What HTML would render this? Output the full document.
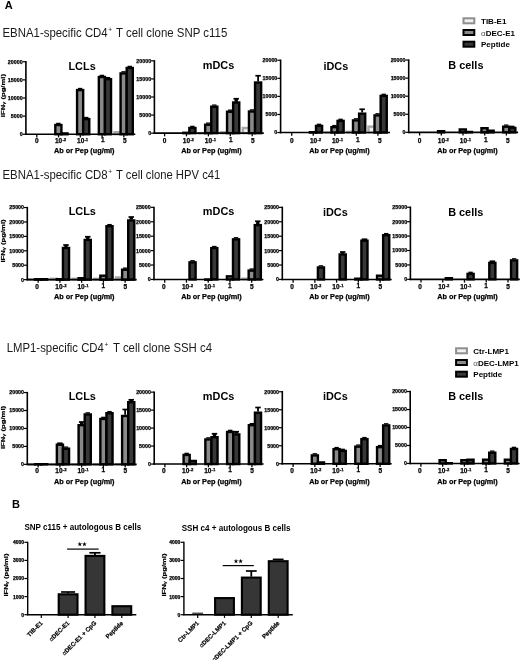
<!DOCTYPE html>
<html><head><meta charset="utf-8"><title>Figure</title>
<style>html,body{margin:0;padding:0;background:#fff}svg{display:block;filter:blur(0.4px)}</style></head>
<body>
<svg width="520" height="660" viewBox="0 0 520 660" font-family="Liberation Sans, sans-serif">
<rect width="520" height="660" fill="#fff"/>
<text x="4.80" y="8.60" font-size="11" font-weight="bold" text-anchor="start" fill="#000" >A</text>
<text x="12.00" y="508.20" font-size="11" font-weight="bold" text-anchor="start" fill="#000" >B</text>
<text x="2.5" y="36.8" font-size="11.9" fill="#1a1a1a" textLength="105.2" lengthAdjust="spacingAndGlyphs">EBNA1-specific CD4</text>
<text x="108.3" y="32.199999999999996" font-size="6.5" fill="#1a1a1a">+</text>
<text x="116.0" y="36.8" font-size="11.9" fill="#1a1a1a" textLength="111.3" lengthAdjust="spacingAndGlyphs">T cell clone SNP c115</text>
<text x="2.5" y="179.0" font-size="11.9" fill="#1a1a1a" textLength="105.2" lengthAdjust="spacingAndGlyphs">EBNA1-specific CD8</text>
<text x="108.3" y="174.4" font-size="6.5" fill="#1a1a1a">+</text>
<text x="116.0" y="179.0" font-size="11.9" fill="#1a1a1a" textLength="104.3" lengthAdjust="spacingAndGlyphs">T cell clone HPV c41</text>
<text x="6.7" y="351.6" font-size="11.9" fill="#1a1a1a" textLength="97.2" lengthAdjust="spacingAndGlyphs">LMP1-specific CD4</text>
<text x="104.5" y="347.0" font-size="6.5" fill="#1a1a1a">+</text>
<text x="113.0" y="351.6" font-size="11.9" fill="#1a1a1a" textLength="99.0" lengthAdjust="spacingAndGlyphs">T cell clone SSH c4</text>
<rect x="463.50" y="18.30" width="10.8" height="5.0" fill="#f0f0f0" stroke="#8e8e8e" stroke-width="2.0"/>
<text x="481.00" y="23.80" font-size="8" font-weight="bold" text-anchor="start" fill="#000" >TIB-E1</text>
<rect x="463.50" y="30.00" width="10.8" height="5.0" fill="#8a8a8a" stroke="#000000" stroke-width="2.0"/>
<text x="481.0" y="35.50" font-size="8" font-weight="bold" fill="#000"><tspan font-weight="normal" fill="#555">α</tspan>DEC-E1</text>
<rect x="463.50" y="41.70" width="10.8" height="5.0" fill="#383838" stroke="#000000" stroke-width="2.0"/>
<text x="481.00" y="47.20" font-size="8" font-weight="bold" text-anchor="start" fill="#000" >Peptide</text>
<rect x="456.10" y="348.30" width="10.8" height="5.0" fill="#f0f0f0" stroke="#8e8e8e" stroke-width="2.0"/>
<text x="473.30" y="353.80" font-size="8" font-weight="bold" text-anchor="start" fill="#000" >Ctr-LMP1</text>
<rect x="456.10" y="360.00" width="10.8" height="5.0" fill="#8a8a8a" stroke="#000000" stroke-width="2.0"/>
<text x="473.3" y="365.50" font-size="8" font-weight="bold" fill="#000"><tspan font-weight="normal" fill="#555">α</tspan>DEC-LMP1</text>
<rect x="456.10" y="371.70" width="10.8" height="5.0" fill="#383838" stroke="#000000" stroke-width="2.0"/>
<text x="473.30" y="377.20" font-size="8" font-weight="bold" text-anchor="start" fill="#000" >Peptide</text>
<line x1="56.16" y1="123.40" x2="60.56" y2="123.40" stroke="#000" stroke-width="1.3"/>
<rect x="55.31" y="125.00" width="6.10" height="9.25" fill="#8a8a8a" stroke="#000000" stroke-width="2.4"/>
<rect x="61.41" y="133.40" width="6.10" height="0.85" fill="#383838" stroke="#000000" stroke-width="2.4"/>
<line x1="77.92" y1="88.50" x2="82.32" y2="88.50" stroke="#000" stroke-width="1.3"/>
<rect x="77.07" y="90.10" width="6.10" height="44.15" fill="#8a8a8a" stroke="#000000" stroke-width="2.4"/>
<line x1="84.02" y1="117.50" x2="88.42" y2="117.50" stroke="#000" stroke-width="1.3"/>
<rect x="83.17" y="119.10" width="6.10" height="15.15" fill="#383838" stroke="#000000" stroke-width="2.4"/>
<line x1="99.68" y1="75.40" x2="104.08" y2="75.40" stroke="#000" stroke-width="1.3"/>
<rect x="98.83" y="77.00" width="6.10" height="57.25" fill="#8a8a8a" stroke="#000000" stroke-width="2.4"/>
<line x1="105.78" y1="77.60" x2="110.18" y2="77.60" stroke="#000" stroke-width="1.3"/>
<rect x="104.93" y="79.20" width="6.10" height="55.05" fill="#383838" stroke="#000000" stroke-width="2.4"/>
<rect x="114.49" y="132.20" width="6.10" height="2.05" fill="#f0f0f0" stroke="#a8a8a8" stroke-width="2.4"/>
<line x1="121.44" y1="71.80" x2="125.84" y2="71.80" stroke="#000" stroke-width="1.3"/>
<rect x="120.59" y="73.40" width="6.10" height="60.85" fill="#8a8a8a" stroke="#000000" stroke-width="2.4"/>
<line x1="127.54" y1="66.40" x2="131.94" y2="66.40" stroke="#000" stroke-width="1.3"/>
<rect x="126.69" y="68.00" width="6.10" height="66.25" fill="#383838" stroke="#000000" stroke-width="2.4"/>
<line x1="25.90" y1="61.05" x2="25.90" y2="135.05" stroke="#000" stroke-width="1.6"/>
<line x1="25.10" y1="134.25" x2="135.30" y2="134.25" stroke="#000" stroke-width="1.6"/>
<line x1="22.60" y1="134.25" x2="25.90" y2="134.25" stroke="#000" stroke-width="1.2"/>
<text x="22.60" y="136.15" font-size="5.3" font-weight="bold" text-anchor="end" fill="#000"  stroke="#000" stroke-width="0.25">0</text>
<line x1="22.60" y1="116.12" x2="25.90" y2="116.12" stroke="#000" stroke-width="1.2"/>
<text x="22.60" y="118.03" font-size="5.3" font-weight="bold" text-anchor="end" fill="#000"  stroke="#000" stroke-width="0.25">5000</text>
<line x1="22.60" y1="98.00" x2="25.90" y2="98.00" stroke="#000" stroke-width="1.2"/>
<text x="22.60" y="99.90" font-size="5.3" font-weight="bold" text-anchor="end" fill="#000"  stroke="#000" stroke-width="0.25">10000</text>
<line x1="22.60" y1="79.88" x2="25.90" y2="79.88" stroke="#000" stroke-width="1.2"/>
<text x="22.60" y="81.78" font-size="5.3" font-weight="bold" text-anchor="end" fill="#000"  stroke="#000" stroke-width="0.25">15000</text>
<line x1="22.60" y1="61.75" x2="25.90" y2="61.75" stroke="#000" stroke-width="1.2"/>
<text x="22.60" y="63.65" font-size="5.3" font-weight="bold" text-anchor="end" fill="#000"  stroke="#000" stroke-width="0.25">20000</text>
<line x1="36.80" y1="134.25" x2="36.80" y2="137.45" stroke="#000" stroke-width="1.3"/>
<text x="36.80" y="143.20" font-size="6.5" font-weight="bold" text-anchor="middle" fill="#000"  stroke="#000" stroke-width="0.25">0</text>
<line x1="58.56" y1="134.25" x2="58.56" y2="137.45" stroke="#000" stroke-width="1.3"/>
<text x="58.63" y="143.20" font-size="6.5" font-weight="bold" text-anchor="middle" fill="#000"  stroke="#000" stroke-width="0.25">10</text>
<text x="62.43" y="140.80" font-size="4.2" font-weight="bold" text-anchor="start" fill="#000"  stroke="#000" stroke-width="0.25">-2</text>
<line x1="80.32" y1="134.25" x2="80.32" y2="137.45" stroke="#000" stroke-width="1.3"/>
<text x="80.66" y="143.20" font-size="6.5" font-weight="bold" text-anchor="middle" fill="#000"  stroke="#000" stroke-width="0.25">10</text>
<text x="84.46" y="140.80" font-size="4.2" font-weight="bold" text-anchor="start" fill="#000"  stroke="#000" stroke-width="0.25">-1</text>
<line x1="102.08" y1="134.25" x2="102.08" y2="137.45" stroke="#000" stroke-width="1.3"/>
<text x="102.89" y="142.30" font-size="6.5" font-weight="bold" text-anchor="middle" fill="#000"  stroke="#000" stroke-width="0.25">1</text>
<line x1="123.84" y1="134.25" x2="123.84" y2="137.45" stroke="#000" stroke-width="1.3"/>
<text x="124.92" y="143.20" font-size="6.5" font-weight="bold" text-anchor="middle" fill="#000"  stroke="#000" stroke-width="0.25">5</text>
<text x="84.30" y="153.10" font-size="7.0" font-weight="bold" text-anchor="middle" fill="#000" textLength="60.5" lengthAdjust="spacingAndGlyphs" stroke="#000" stroke-width="0.25">Ab or Pep (ug/ml)</text>
<text x="82.10" y="69.60" font-size="10.9" font-weight="bold" text-anchor="middle" fill="#000" >LCLs</text>
<g transform="translate(5.15,95.60) rotate(-90)"><text x="0" y="0" font-size="5.5" font-weight="bold" text-anchor="middle" fill="#000" stroke="#000" stroke-width="0.2" textLength="43.2" lengthAdjust="spacingAndGlyphs">IFN<tspan font-size="4.4" font-weight="normal">γ</tspan> (pg/ml)</text></g>
<rect x="183.25" y="132.80" width="6.10" height="0.35" fill="#8a8a8a" stroke="#000000" stroke-width="2.4"/>
<line x1="190.20" y1="126.40" x2="194.60" y2="126.40" stroke="#000" stroke-width="1.3"/>
<rect x="189.35" y="128.00" width="6.10" height="5.15" fill="#383838" stroke="#000000" stroke-width="2.4"/>
<rect x="199.05" y="133.20" width="6.10" height="0.20" fill="#f0f0f0" stroke="#a8a8a8" stroke-width="2.4"/>
<line x1="206.00" y1="123.15" x2="210.40" y2="123.15" stroke="#000" stroke-width="1.3"/>
<rect x="205.15" y="124.75" width="6.10" height="8.40" fill="#8a8a8a" stroke="#000000" stroke-width="2.4"/>
<line x1="212.10" y1="105.10" x2="216.50" y2="105.10" stroke="#000" stroke-width="1.3"/>
<rect x="211.25" y="106.70" width="6.10" height="26.45" fill="#383838" stroke="#000000" stroke-width="2.4"/>
<rect x="220.95" y="132.20" width="6.10" height="0.95" fill="#f0f0f0" stroke="#a8a8a8" stroke-width="2.4"/>
<line x1="227.90" y1="110.15" x2="232.30" y2="110.15" stroke="#000" stroke-width="1.3"/>
<rect x="227.05" y="111.75" width="6.10" height="21.40" fill="#8a8a8a" stroke="#000000" stroke-width="2.4"/>
<line x1="236.20" y1="98.75" x2="236.20" y2="101.80" stroke="#000" stroke-width="3.355"/>
<line x1="233.45" y1="98.75" x2="238.94" y2="98.75" stroke="#000" stroke-width="1.7"/>
<rect x="233.15" y="102.50" width="6.10" height="30.65" fill="#383838" stroke="#000000" stroke-width="2.4"/>
<rect x="242.85" y="128.00" width="6.10" height="5.15" fill="#f0f0f0" stroke="#a8a8a8" stroke-width="2.4"/>
<line x1="249.80" y1="109.90" x2="254.20" y2="109.90" stroke="#000" stroke-width="1.3"/>
<rect x="248.95" y="111.50" width="6.10" height="21.65" fill="#8a8a8a" stroke="#000000" stroke-width="2.4"/>
<line x1="258.10" y1="75.75" x2="258.10" y2="81.30" stroke="#000" stroke-width="1.8"/>
<line x1="255.36" y1="75.75" x2="260.85" y2="75.75" stroke="#000" stroke-width="1.7"/>
<rect x="255.05" y="82.50" width="6.10" height="50.65" fill="#383838" stroke="#000000" stroke-width="2.4"/>
<line x1="154.40" y1="60.15" x2="154.40" y2="133.95" stroke="#000" stroke-width="1.6"/>
<line x1="153.60" y1="133.15" x2="263.80" y2="133.15" stroke="#000" stroke-width="1.6"/>
<line x1="151.10" y1="133.15" x2="154.40" y2="133.15" stroke="#000" stroke-width="1.2"/>
<text x="151.10" y="135.05" font-size="5.3" font-weight="bold" text-anchor="end" fill="#000"  stroke="#000" stroke-width="0.25">0</text>
<line x1="151.10" y1="115.08" x2="154.40" y2="115.08" stroke="#000" stroke-width="1.2"/>
<text x="151.10" y="116.98" font-size="5.3" font-weight="bold" text-anchor="end" fill="#000"  stroke="#000" stroke-width="0.25">5000</text>
<line x1="151.10" y1="97.00" x2="154.40" y2="97.00" stroke="#000" stroke-width="1.2"/>
<text x="151.10" y="98.90" font-size="5.3" font-weight="bold" text-anchor="end" fill="#000"  stroke="#000" stroke-width="0.25">10000</text>
<line x1="151.10" y1="78.92" x2="154.40" y2="78.92" stroke="#000" stroke-width="1.2"/>
<text x="151.10" y="80.83" font-size="5.3" font-weight="bold" text-anchor="end" fill="#000"  stroke="#000" stroke-width="0.25">15000</text>
<line x1="151.10" y1="60.85" x2="154.40" y2="60.85" stroke="#000" stroke-width="1.2"/>
<text x="151.10" y="62.75" font-size="5.3" font-weight="bold" text-anchor="end" fill="#000"  stroke="#000" stroke-width="0.25">20000</text>
<line x1="164.60" y1="133.15" x2="164.60" y2="136.35" stroke="#000" stroke-width="1.3"/>
<text x="164.60" y="143.20" font-size="6.5" font-weight="bold" text-anchor="middle" fill="#000"  stroke="#000" stroke-width="0.25">0</text>
<line x1="186.50" y1="133.15" x2="186.50" y2="136.35" stroke="#000" stroke-width="1.3"/>
<text x="186.43" y="143.20" font-size="6.5" font-weight="bold" text-anchor="middle" fill="#000"  stroke="#000" stroke-width="0.25">10</text>
<text x="190.23" y="140.80" font-size="4.2" font-weight="bold" text-anchor="start" fill="#000"  stroke="#000" stroke-width="0.25">-2</text>
<line x1="208.40" y1="133.15" x2="208.40" y2="136.35" stroke="#000" stroke-width="1.3"/>
<text x="208.46" y="143.20" font-size="6.5" font-weight="bold" text-anchor="middle" fill="#000"  stroke="#000" stroke-width="0.25">10</text>
<text x="212.26" y="140.80" font-size="4.2" font-weight="bold" text-anchor="start" fill="#000"  stroke="#000" stroke-width="0.25">-1</text>
<line x1="230.30" y1="133.15" x2="230.30" y2="136.35" stroke="#000" stroke-width="1.3"/>
<text x="230.69" y="142.30" font-size="6.5" font-weight="bold" text-anchor="middle" fill="#000"  stroke="#000" stroke-width="0.25">1</text>
<line x1="252.20" y1="133.15" x2="252.20" y2="136.35" stroke="#000" stroke-width="1.3"/>
<text x="252.72" y="143.20" font-size="6.5" font-weight="bold" text-anchor="middle" fill="#000"  stroke="#000" stroke-width="0.25">5</text>
<text x="211.40" y="153.10" font-size="7.0" font-weight="bold" text-anchor="middle" fill="#000" textLength="60.5" lengthAdjust="spacingAndGlyphs" stroke="#000" stroke-width="0.25">Ab or Pep (ug/ml)</text>
<text x="218.50" y="69.00" font-size="10.9" font-weight="bold" text-anchor="middle" fill="#000" >mDCs</text>
<rect x="309.90" y="132.20" width="6.10" height="0.35" fill="#8a8a8a" stroke="#000000" stroke-width="2.4"/>
<line x1="316.85" y1="124.30" x2="321.25" y2="124.30" stroke="#000" stroke-width="1.3"/>
<rect x="316.00" y="125.90" width="6.10" height="6.65" fill="#383838" stroke="#000000" stroke-width="2.4"/>
<rect x="325.35" y="132.50" width="6.10" height="0.20" fill="#f0f0f0" stroke="#a8a8a8" stroke-width="2.4"/>
<line x1="332.30" y1="125.55" x2="336.70" y2="125.55" stroke="#000" stroke-width="1.3"/>
<rect x="331.45" y="127.15" width="6.10" height="5.40" fill="#8a8a8a" stroke="#000000" stroke-width="2.4"/>
<line x1="338.40" y1="119.30" x2="342.80" y2="119.30" stroke="#000" stroke-width="1.3"/>
<rect x="337.55" y="120.90" width="6.10" height="11.65" fill="#383838" stroke="#000000" stroke-width="2.4"/>
<rect x="346.90" y="131.80" width="6.10" height="0.75" fill="#f0f0f0" stroke="#a8a8a8" stroke-width="2.4"/>
<line x1="353.85" y1="118.80" x2="358.25" y2="118.80" stroke="#000" stroke-width="1.3"/>
<rect x="353.00" y="120.40" width="6.10" height="12.15" fill="#8a8a8a" stroke="#000000" stroke-width="2.4"/>
<line x1="362.15" y1="109.25" x2="362.15" y2="112.45" stroke="#000" stroke-width="1.8"/>
<line x1="359.41" y1="109.25" x2="364.90" y2="109.25" stroke="#000" stroke-width="1.7"/>
<rect x="359.10" y="113.65" width="6.10" height="18.90" fill="#383838" stroke="#000000" stroke-width="2.4"/>
<rect x="368.45" y="126.65" width="6.10" height="5.90" fill="#f0f0f0" stroke="#a8a8a8" stroke-width="2.4"/>
<line x1="375.40" y1="113.80" x2="379.80" y2="113.80" stroke="#000" stroke-width="1.3"/>
<rect x="374.55" y="115.40" width="6.10" height="17.15" fill="#8a8a8a" stroke="#000000" stroke-width="2.4"/>
<line x1="381.50" y1="94.30" x2="385.90" y2="94.30" stroke="#000" stroke-width="1.3"/>
<rect x="380.65" y="95.90" width="6.10" height="36.65" fill="#383838" stroke="#000000" stroke-width="2.4"/>
<line x1="280.60" y1="59.55" x2="280.60" y2="133.35" stroke="#000" stroke-width="1.6"/>
<line x1="279.80" y1="132.55" x2="390.00" y2="132.55" stroke="#000" stroke-width="1.6"/>
<line x1="277.30" y1="132.55" x2="280.60" y2="132.55" stroke="#000" stroke-width="1.2"/>
<text x="277.30" y="134.45" font-size="5.3" font-weight="bold" text-anchor="end" fill="#000"  stroke="#000" stroke-width="0.25">0</text>
<line x1="277.30" y1="114.48" x2="280.60" y2="114.48" stroke="#000" stroke-width="1.2"/>
<text x="277.30" y="116.38" font-size="5.3" font-weight="bold" text-anchor="end" fill="#000"  stroke="#000" stroke-width="0.25">5000</text>
<line x1="277.30" y1="96.40" x2="280.60" y2="96.40" stroke="#000" stroke-width="1.2"/>
<text x="277.30" y="98.30" font-size="5.3" font-weight="bold" text-anchor="end" fill="#000"  stroke="#000" stroke-width="0.25">10000</text>
<line x1="277.30" y1="78.33" x2="280.60" y2="78.33" stroke="#000" stroke-width="1.2"/>
<text x="277.30" y="80.23" font-size="5.3" font-weight="bold" text-anchor="end" fill="#000"  stroke="#000" stroke-width="0.25">15000</text>
<line x1="277.30" y1="60.25" x2="280.60" y2="60.25" stroke="#000" stroke-width="1.2"/>
<text x="277.30" y="62.15" font-size="5.3" font-weight="bold" text-anchor="end" fill="#000"  stroke="#000" stroke-width="0.25">20000</text>
<line x1="291.70" y1="132.55" x2="291.70" y2="135.75" stroke="#000" stroke-width="1.3"/>
<text x="291.70" y="143.20" font-size="6.5" font-weight="bold" text-anchor="middle" fill="#000"  stroke="#000" stroke-width="0.25">0</text>
<line x1="313.25" y1="132.55" x2="313.25" y2="135.75" stroke="#000" stroke-width="1.3"/>
<text x="313.53" y="143.20" font-size="6.5" font-weight="bold" text-anchor="middle" fill="#000"  stroke="#000" stroke-width="0.25">10</text>
<text x="317.33" y="140.80" font-size="4.2" font-weight="bold" text-anchor="start" fill="#000"  stroke="#000" stroke-width="0.25">-2</text>
<line x1="334.80" y1="132.55" x2="334.80" y2="135.75" stroke="#000" stroke-width="1.3"/>
<text x="335.56" y="143.20" font-size="6.5" font-weight="bold" text-anchor="middle" fill="#000"  stroke="#000" stroke-width="0.25">10</text>
<text x="339.36" y="140.80" font-size="4.2" font-weight="bold" text-anchor="start" fill="#000"  stroke="#000" stroke-width="0.25">-1</text>
<line x1="356.35" y1="132.55" x2="356.35" y2="135.75" stroke="#000" stroke-width="1.3"/>
<text x="357.79" y="142.30" font-size="6.5" font-weight="bold" text-anchor="middle" fill="#000"  stroke="#000" stroke-width="0.25">1</text>
<line x1="377.90" y1="132.55" x2="377.90" y2="135.75" stroke="#000" stroke-width="1.3"/>
<text x="379.82" y="143.20" font-size="6.5" font-weight="bold" text-anchor="middle" fill="#000"  stroke="#000" stroke-width="0.25">5</text>
<text x="339.40" y="153.10" font-size="7.0" font-weight="bold" text-anchor="middle" fill="#000" textLength="60.5" lengthAdjust="spacingAndGlyphs" stroke="#000" stroke-width="0.25">Ab or Pep (ug/ml)</text>
<text x="335.80" y="69.90" font-size="10.9" font-weight="bold" text-anchor="middle" fill="#000" >iDCs</text>
<rect x="438.05" y="131.20" width="6.10" height="1.15" fill="#8a8a8a" stroke="#000000" stroke-width="2.4"/>
<rect x="459.75" y="129.45" width="6.10" height="2.90" fill="#8a8a8a" stroke="#000000" stroke-width="2.4"/>
<rect x="465.85" y="131.95" width="6.10" height="0.40" fill="#383838" stroke="#000000" stroke-width="2.4"/>
<rect x="481.45" y="128.20" width="6.10" height="4.15" fill="#8a8a8a" stroke="#000000" stroke-width="2.4"/>
<rect x="487.55" y="130.70" width="6.10" height="1.65" fill="#383838" stroke="#000000" stroke-width="2.4"/>
<line x1="504.00" y1="125.10" x2="508.40" y2="125.10" stroke="#000" stroke-width="1.3"/>
<rect x="503.15" y="126.70" width="6.10" height="5.65" fill="#8a8a8a" stroke="#000000" stroke-width="2.4"/>
<line x1="510.10" y1="126.35" x2="514.50" y2="126.35" stroke="#000" stroke-width="1.3"/>
<rect x="509.25" y="127.95" width="6.10" height="4.40" fill="#383838" stroke="#000000" stroke-width="2.4"/>
<line x1="408.70" y1="59.35" x2="408.70" y2="133.15" stroke="#000" stroke-width="1.6"/>
<line x1="407.90" y1="132.35" x2="518.10" y2="132.35" stroke="#000" stroke-width="1.6"/>
<line x1="405.40" y1="132.35" x2="408.70" y2="132.35" stroke="#000" stroke-width="1.2"/>
<text x="405.40" y="134.25" font-size="5.3" font-weight="bold" text-anchor="end" fill="#000"  stroke="#000" stroke-width="0.25">0</text>
<line x1="405.40" y1="114.27" x2="408.70" y2="114.27" stroke="#000" stroke-width="1.2"/>
<text x="405.40" y="116.17" font-size="5.3" font-weight="bold" text-anchor="end" fill="#000"  stroke="#000" stroke-width="0.25">5000</text>
<line x1="405.40" y1="96.20" x2="408.70" y2="96.20" stroke="#000" stroke-width="1.2"/>
<text x="405.40" y="98.10" font-size="5.3" font-weight="bold" text-anchor="end" fill="#000"  stroke="#000" stroke-width="0.25">10000</text>
<line x1="405.40" y1="78.12" x2="408.70" y2="78.12" stroke="#000" stroke-width="1.2"/>
<text x="405.40" y="80.03" font-size="5.3" font-weight="bold" text-anchor="end" fill="#000"  stroke="#000" stroke-width="0.25">15000</text>
<line x1="405.40" y1="60.05" x2="408.70" y2="60.05" stroke="#000" stroke-width="1.2"/>
<text x="405.40" y="61.95" font-size="5.3" font-weight="bold" text-anchor="end" fill="#000"  stroke="#000" stroke-width="0.25">20000</text>
<line x1="419.60" y1="132.35" x2="419.60" y2="135.55" stroke="#000" stroke-width="1.3"/>
<text x="419.60" y="143.20" font-size="6.5" font-weight="bold" text-anchor="middle" fill="#000"  stroke="#000" stroke-width="0.25">0</text>
<line x1="441.30" y1="132.35" x2="441.30" y2="135.55" stroke="#000" stroke-width="1.3"/>
<text x="441.43" y="143.20" font-size="6.5" font-weight="bold" text-anchor="middle" fill="#000"  stroke="#000" stroke-width="0.25">10</text>
<text x="445.23" y="140.80" font-size="4.2" font-weight="bold" text-anchor="start" fill="#000"  stroke="#000" stroke-width="0.25">-2</text>
<line x1="463.00" y1="132.35" x2="463.00" y2="135.55" stroke="#000" stroke-width="1.3"/>
<text x="463.46" y="143.20" font-size="6.5" font-weight="bold" text-anchor="middle" fill="#000"  stroke="#000" stroke-width="0.25">10</text>
<text x="467.26" y="140.80" font-size="4.2" font-weight="bold" text-anchor="start" fill="#000"  stroke="#000" stroke-width="0.25">-1</text>
<line x1="484.70" y1="132.35" x2="484.70" y2="135.55" stroke="#000" stroke-width="1.3"/>
<text x="485.69" y="142.30" font-size="6.5" font-weight="bold" text-anchor="middle" fill="#000"  stroke="#000" stroke-width="0.25">1</text>
<line x1="506.40" y1="132.35" x2="506.40" y2="135.55" stroke="#000" stroke-width="1.3"/>
<text x="507.72" y="143.20" font-size="6.5" font-weight="bold" text-anchor="middle" fill="#000"  stroke="#000" stroke-width="0.25">5</text>
<text x="467.50" y="153.10" font-size="7.0" font-weight="bold" text-anchor="middle" fill="#000" textLength="60.5" lengthAdjust="spacingAndGlyphs" stroke="#000" stroke-width="0.25">Ab or Pep (ug/ml)</text>
<text x="465.90" y="69.10" font-size="10.9" font-weight="bold" text-anchor="middle" fill="#000" >B cells</text>
<rect x="29.00" y="279.40" width="6.10" height="0.25" fill="#f0f0f0" stroke="#a8a8a8" stroke-width="2.4"/>
<rect x="35.10" y="279.20" width="6.10" height="0.45" fill="#8a8a8a" stroke="#000000" stroke-width="2.4"/>
<rect x="41.20" y="279.20" width="6.10" height="0.45" fill="#383838" stroke="#000000" stroke-width="2.4"/>
<rect x="50.75" y="278.80" width="6.10" height="0.85" fill="#f0f0f0" stroke="#a8a8a8" stroke-width="2.4"/>
<rect x="56.85" y="279.20" width="6.10" height="0.45" fill="#8a8a8a" stroke="#000000" stroke-width="2.4"/>
<line x1="66.00" y1="245.00" x2="66.00" y2="247.25" stroke="#000" stroke-width="3.355"/>
<line x1="63.26" y1="245.00" x2="68.75" y2="245.00" stroke="#000" stroke-width="1.7"/>
<rect x="62.95" y="247.95" width="6.10" height="31.70" fill="#383838" stroke="#000000" stroke-width="2.4"/>
<rect x="72.50" y="278.80" width="6.10" height="0.85" fill="#f0f0f0" stroke="#a8a8a8" stroke-width="2.4"/>
<rect x="78.60" y="278.20" width="6.10" height="1.45" fill="#8a8a8a" stroke="#000000" stroke-width="2.4"/>
<line x1="87.75" y1="236.75" x2="87.75" y2="239.25" stroke="#000" stroke-width="3.355"/>
<line x1="85.00" y1="236.75" x2="90.50" y2="236.75" stroke="#000" stroke-width="1.7"/>
<rect x="84.70" y="239.95" width="6.10" height="39.70" fill="#383838" stroke="#000000" stroke-width="2.4"/>
<rect x="94.25" y="278.80" width="6.10" height="0.85" fill="#f0f0f0" stroke="#a8a8a8" stroke-width="2.4"/>
<rect x="100.35" y="275.70" width="6.10" height="3.95" fill="#8a8a8a" stroke="#000000" stroke-width="2.4"/>
<line x1="107.30" y1="224.60" x2="111.70" y2="224.60" stroke="#000" stroke-width="1.3"/>
<rect x="106.45" y="226.20" width="6.10" height="53.45" fill="#383838" stroke="#000000" stroke-width="2.4"/>
<rect x="116.00" y="277.45" width="6.10" height="2.20" fill="#f0f0f0" stroke="#a8a8a8" stroke-width="2.4"/>
<line x1="122.95" y1="268.10" x2="127.35" y2="268.10" stroke="#000" stroke-width="1.3"/>
<rect x="122.10" y="269.70" width="6.10" height="9.95" fill="#8a8a8a" stroke="#000000" stroke-width="2.4"/>
<line x1="131.25" y1="217.00" x2="131.25" y2="219.75" stroke="#000" stroke-width="3.355"/>
<line x1="128.50" y1="217.00" x2="134.00" y2="217.00" stroke="#000" stroke-width="1.7"/>
<rect x="128.20" y="220.45" width="6.10" height="59.20" fill="#383838" stroke="#000000" stroke-width="2.4"/>
<line x1="27.30" y1="206.85" x2="27.30" y2="280.45" stroke="#000" stroke-width="1.6"/>
<line x1="26.50" y1="279.65" x2="136.70" y2="279.65" stroke="#000" stroke-width="1.6"/>
<line x1="24.00" y1="279.65" x2="27.30" y2="279.65" stroke="#000" stroke-width="1.2"/>
<text x="24.00" y="281.55" font-size="5.3" font-weight="bold" text-anchor="end" fill="#000"  stroke="#000" stroke-width="0.25">0</text>
<line x1="24.00" y1="265.23" x2="27.30" y2="265.23" stroke="#000" stroke-width="1.2"/>
<text x="24.00" y="267.13" font-size="5.3" font-weight="bold" text-anchor="end" fill="#000"  stroke="#000" stroke-width="0.25">5000</text>
<line x1="24.00" y1="250.81" x2="27.30" y2="250.81" stroke="#000" stroke-width="1.2"/>
<text x="24.00" y="252.71" font-size="5.3" font-weight="bold" text-anchor="end" fill="#000"  stroke="#000" stroke-width="0.25">10000</text>
<line x1="24.00" y1="236.39" x2="27.30" y2="236.39" stroke="#000" stroke-width="1.2"/>
<text x="24.00" y="238.29" font-size="5.3" font-weight="bold" text-anchor="end" fill="#000"  stroke="#000" stroke-width="0.25">15000</text>
<line x1="24.00" y1="221.97" x2="27.30" y2="221.97" stroke="#000" stroke-width="1.2"/>
<text x="24.00" y="223.87" font-size="5.3" font-weight="bold" text-anchor="end" fill="#000"  stroke="#000" stroke-width="0.25">20000</text>
<line x1="24.00" y1="207.55" x2="27.30" y2="207.55" stroke="#000" stroke-width="1.2"/>
<text x="24.00" y="209.45" font-size="5.3" font-weight="bold" text-anchor="end" fill="#000"  stroke="#000" stroke-width="0.25">25000</text>
<line x1="38.15" y1="279.65" x2="38.15" y2="282.85" stroke="#000" stroke-width="1.3"/>
<text x="37.15" y="288.90" font-size="6.5" font-weight="bold" text-anchor="middle" fill="#000"  stroke="#000" stroke-width="0.25">0</text>
<line x1="59.90" y1="279.65" x2="59.90" y2="282.85" stroke="#000" stroke-width="1.3"/>
<text x="58.98" y="288.90" font-size="6.5" font-weight="bold" text-anchor="middle" fill="#000"  stroke="#000" stroke-width="0.25">10</text>
<text x="62.78" y="286.50" font-size="4.2" font-weight="bold" text-anchor="start" fill="#000"  stroke="#000" stroke-width="0.25">-2</text>
<line x1="81.65" y1="279.65" x2="81.65" y2="282.85" stroke="#000" stroke-width="1.3"/>
<text x="81.01" y="288.90" font-size="6.5" font-weight="bold" text-anchor="middle" fill="#000"  stroke="#000" stroke-width="0.25">10</text>
<text x="84.81" y="286.50" font-size="4.2" font-weight="bold" text-anchor="start" fill="#000"  stroke="#000" stroke-width="0.25">-1</text>
<line x1="103.40" y1="279.65" x2="103.40" y2="282.85" stroke="#000" stroke-width="1.3"/>
<text x="103.24" y="288.00" font-size="6.5" font-weight="bold" text-anchor="middle" fill="#000"  stroke="#000" stroke-width="0.25">1</text>
<line x1="125.15" y1="279.65" x2="125.15" y2="282.85" stroke="#000" stroke-width="1.3"/>
<text x="125.27" y="288.90" font-size="6.5" font-weight="bold" text-anchor="middle" fill="#000"  stroke="#000" stroke-width="0.25">5</text>
<text x="84.30" y="299.20" font-size="7.0" font-weight="bold" text-anchor="middle" fill="#000" textLength="60.5" lengthAdjust="spacingAndGlyphs" stroke="#000" stroke-width="0.25">Ab or Pep (ug/ml)</text>
<text x="82.30" y="215.40" font-size="10.9" font-weight="bold" text-anchor="middle" fill="#000" >LCLs</text>
<g transform="translate(5.15,241.00) rotate(-90)"><text x="0" y="0" font-size="5.5" font-weight="bold" text-anchor="middle" fill="#000" stroke="#000" stroke-width="0.2" textLength="43.2" lengthAdjust="spacingAndGlyphs">IFN<tspan font-size="4.4" font-weight="normal">γ</tspan> (pg/ml)</text></g>
<line x1="190.35" y1="260.75" x2="194.75" y2="260.75" stroke="#000" stroke-width="1.3"/>
<rect x="189.50" y="262.35" width="6.10" height="17.10" fill="#383838" stroke="#000000" stroke-width="2.4"/>
<rect x="205.15" y="279.50" width="6.10" height="0.20" fill="#8a8a8a" stroke="#000000" stroke-width="2.4"/>
<line x1="212.10" y1="246.50" x2="216.50" y2="246.50" stroke="#000" stroke-width="1.3"/>
<rect x="211.25" y="248.10" width="6.10" height="31.35" fill="#383838" stroke="#000000" stroke-width="2.4"/>
<rect x="226.90" y="276.35" width="6.10" height="3.10" fill="#8a8a8a" stroke="#000000" stroke-width="2.4"/>
<line x1="233.85" y1="237.75" x2="238.25" y2="237.75" stroke="#000" stroke-width="1.3"/>
<rect x="233.00" y="239.35" width="6.10" height="40.10" fill="#383838" stroke="#000000" stroke-width="2.4"/>
<rect x="242.55" y="278.70" width="6.10" height="0.75" fill="#f0f0f0" stroke="#a8a8a8" stroke-width="2.4"/>
<line x1="249.50" y1="269.00" x2="253.90" y2="269.00" stroke="#000" stroke-width="1.3"/>
<rect x="248.65" y="270.60" width="6.10" height="8.85" fill="#8a8a8a" stroke="#000000" stroke-width="2.4"/>
<line x1="257.80" y1="221.25" x2="257.80" y2="224.40" stroke="#000" stroke-width="3.355"/>
<line x1="255.06" y1="221.25" x2="260.55" y2="221.25" stroke="#000" stroke-width="1.7"/>
<rect x="254.75" y="225.10" width="6.10" height="54.35" fill="#383838" stroke="#000000" stroke-width="2.4"/>
<line x1="154.00" y1="206.65" x2="154.00" y2="280.25" stroke="#000" stroke-width="1.6"/>
<line x1="153.20" y1="279.45" x2="263.40" y2="279.45" stroke="#000" stroke-width="1.6"/>
<line x1="150.70" y1="279.45" x2="154.00" y2="279.45" stroke="#000" stroke-width="1.2"/>
<text x="150.70" y="281.35" font-size="5.3" font-weight="bold" text-anchor="end" fill="#000"  stroke="#000" stroke-width="0.25">0</text>
<line x1="150.70" y1="265.03" x2="154.00" y2="265.03" stroke="#000" stroke-width="1.2"/>
<text x="150.70" y="266.93" font-size="5.3" font-weight="bold" text-anchor="end" fill="#000"  stroke="#000" stroke-width="0.25">5000</text>
<line x1="150.70" y1="250.61" x2="154.00" y2="250.61" stroke="#000" stroke-width="1.2"/>
<text x="150.70" y="252.51" font-size="5.3" font-weight="bold" text-anchor="end" fill="#000"  stroke="#000" stroke-width="0.25">10000</text>
<line x1="150.70" y1="236.19" x2="154.00" y2="236.19" stroke="#000" stroke-width="1.2"/>
<text x="150.70" y="238.09" font-size="5.3" font-weight="bold" text-anchor="end" fill="#000"  stroke="#000" stroke-width="0.25">15000</text>
<line x1="150.70" y1="221.77" x2="154.00" y2="221.77" stroke="#000" stroke-width="1.2"/>
<text x="150.70" y="223.67" font-size="5.3" font-weight="bold" text-anchor="end" fill="#000"  stroke="#000" stroke-width="0.25">20000</text>
<line x1="150.70" y1="207.35" x2="154.00" y2="207.35" stroke="#000" stroke-width="1.2"/>
<text x="150.70" y="209.25" font-size="5.3" font-weight="bold" text-anchor="end" fill="#000"  stroke="#000" stroke-width="0.25">25000</text>
<line x1="164.70" y1="279.45" x2="164.70" y2="282.65" stroke="#000" stroke-width="1.3"/>
<text x="163.70" y="288.90" font-size="6.5" font-weight="bold" text-anchor="middle" fill="#000"  stroke="#000" stroke-width="0.25">0</text>
<line x1="186.45" y1="279.45" x2="186.45" y2="282.65" stroke="#000" stroke-width="1.3"/>
<text x="185.53" y="288.90" font-size="6.5" font-weight="bold" text-anchor="middle" fill="#000"  stroke="#000" stroke-width="0.25">10</text>
<text x="189.33" y="286.50" font-size="4.2" font-weight="bold" text-anchor="start" fill="#000"  stroke="#000" stroke-width="0.25">-2</text>
<line x1="208.20" y1="279.45" x2="208.20" y2="282.65" stroke="#000" stroke-width="1.3"/>
<text x="207.56" y="288.90" font-size="6.5" font-weight="bold" text-anchor="middle" fill="#000"  stroke="#000" stroke-width="0.25">10</text>
<text x="211.36" y="286.50" font-size="4.2" font-weight="bold" text-anchor="start" fill="#000"  stroke="#000" stroke-width="0.25">-1</text>
<line x1="229.95" y1="279.45" x2="229.95" y2="282.65" stroke="#000" stroke-width="1.3"/>
<text x="229.79" y="288.00" font-size="6.5" font-weight="bold" text-anchor="middle" fill="#000"  stroke="#000" stroke-width="0.25">1</text>
<line x1="251.70" y1="279.45" x2="251.70" y2="282.65" stroke="#000" stroke-width="1.3"/>
<text x="251.82" y="288.90" font-size="6.5" font-weight="bold" text-anchor="middle" fill="#000"  stroke="#000" stroke-width="0.25">5</text>
<text x="211.40" y="299.20" font-size="7.0" font-weight="bold" text-anchor="middle" fill="#000" textLength="60.5" lengthAdjust="spacingAndGlyphs" stroke="#000" stroke-width="0.25">Ab or Pep (ug/ml)</text>
<text x="218.60" y="215.30" font-size="10.9" font-weight="bold" text-anchor="middle" fill="#000" >mDCs</text>
<line x1="318.75" y1="265.85" x2="323.15" y2="265.85" stroke="#000" stroke-width="1.3"/>
<rect x="317.90" y="267.45" width="6.10" height="12.00" fill="#383838" stroke="#000000" stroke-width="2.4"/>
<line x1="342.70" y1="252.00" x2="342.70" y2="253.75" stroke="#000" stroke-width="3.355"/>
<line x1="339.96" y1="252.00" x2="345.45" y2="252.00" stroke="#000" stroke-width="1.7"/>
<rect x="339.65" y="254.45" width="6.10" height="25.00" fill="#383838" stroke="#000000" stroke-width="2.4"/>
<rect x="355.30" y="278.70" width="6.10" height="0.75" fill="#8a8a8a" stroke="#000000" stroke-width="2.4"/>
<line x1="364.45" y1="239.25" x2="364.45" y2="240.00" stroke="#000" stroke-width="3.355"/>
<line x1="361.71" y1="239.25" x2="367.20" y2="239.25" stroke="#000" stroke-width="1.7"/>
<rect x="361.40" y="240.70" width="6.10" height="38.75" fill="#383838" stroke="#000000" stroke-width="2.4"/>
<rect x="377.05" y="275.70" width="6.10" height="3.75" fill="#8a8a8a" stroke="#000000" stroke-width="2.4"/>
<line x1="384.00" y1="233.60" x2="388.40" y2="233.60" stroke="#000" stroke-width="1.3"/>
<rect x="383.15" y="235.20" width="6.10" height="44.25" fill="#383838" stroke="#000000" stroke-width="2.4"/>
<line x1="282.30" y1="206.65" x2="282.30" y2="280.25" stroke="#000" stroke-width="1.6"/>
<line x1="281.50" y1="279.45" x2="391.70" y2="279.45" stroke="#000" stroke-width="1.6"/>
<line x1="279.00" y1="279.45" x2="282.30" y2="279.45" stroke="#000" stroke-width="1.2"/>
<text x="279.00" y="281.35" font-size="5.3" font-weight="bold" text-anchor="end" fill="#000"  stroke="#000" stroke-width="0.25">0</text>
<line x1="279.00" y1="265.03" x2="282.30" y2="265.03" stroke="#000" stroke-width="1.2"/>
<text x="279.00" y="266.93" font-size="5.3" font-weight="bold" text-anchor="end" fill="#000"  stroke="#000" stroke-width="0.25">5000</text>
<line x1="279.00" y1="250.61" x2="282.30" y2="250.61" stroke="#000" stroke-width="1.2"/>
<text x="279.00" y="252.51" font-size="5.3" font-weight="bold" text-anchor="end" fill="#000"  stroke="#000" stroke-width="0.25">10000</text>
<line x1="279.00" y1="236.19" x2="282.30" y2="236.19" stroke="#000" stroke-width="1.2"/>
<text x="279.00" y="238.09" font-size="5.3" font-weight="bold" text-anchor="end" fill="#000"  stroke="#000" stroke-width="0.25">15000</text>
<line x1="279.00" y1="221.77" x2="282.30" y2="221.77" stroke="#000" stroke-width="1.2"/>
<text x="279.00" y="223.67" font-size="5.3" font-weight="bold" text-anchor="end" fill="#000"  stroke="#000" stroke-width="0.25">20000</text>
<line x1="279.00" y1="207.35" x2="282.30" y2="207.35" stroke="#000" stroke-width="1.2"/>
<text x="279.00" y="209.25" font-size="5.3" font-weight="bold" text-anchor="end" fill="#000"  stroke="#000" stroke-width="0.25">25000</text>
<line x1="293.10" y1="279.45" x2="293.10" y2="282.65" stroke="#000" stroke-width="1.3"/>
<text x="292.10" y="288.90" font-size="6.5" font-weight="bold" text-anchor="middle" fill="#000"  stroke="#000" stroke-width="0.25">0</text>
<line x1="314.85" y1="279.45" x2="314.85" y2="282.65" stroke="#000" stroke-width="1.3"/>
<text x="313.93" y="288.90" font-size="6.5" font-weight="bold" text-anchor="middle" fill="#000"  stroke="#000" stroke-width="0.25">10</text>
<text x="317.73" y="286.50" font-size="4.2" font-weight="bold" text-anchor="start" fill="#000"  stroke="#000" stroke-width="0.25">-2</text>
<line x1="336.60" y1="279.45" x2="336.60" y2="282.65" stroke="#000" stroke-width="1.3"/>
<text x="335.96" y="288.90" font-size="6.5" font-weight="bold" text-anchor="middle" fill="#000"  stroke="#000" stroke-width="0.25">10</text>
<text x="339.76" y="286.50" font-size="4.2" font-weight="bold" text-anchor="start" fill="#000"  stroke="#000" stroke-width="0.25">-1</text>
<line x1="358.35" y1="279.45" x2="358.35" y2="282.65" stroke="#000" stroke-width="1.3"/>
<text x="358.19" y="288.00" font-size="6.5" font-weight="bold" text-anchor="middle" fill="#000"  stroke="#000" stroke-width="0.25">1</text>
<line x1="380.10" y1="279.45" x2="380.10" y2="282.65" stroke="#000" stroke-width="1.3"/>
<text x="380.22" y="288.90" font-size="6.5" font-weight="bold" text-anchor="middle" fill="#000"  stroke="#000" stroke-width="0.25">5</text>
<text x="339.40" y="299.20" font-size="7.0" font-weight="bold" text-anchor="middle" fill="#000" textLength="60.5" lengthAdjust="spacingAndGlyphs" stroke="#000" stroke-width="0.25">Ab or Pep (ug/ml)</text>
<text x="335.30" y="215.60" font-size="10.9" font-weight="bold" text-anchor="middle" fill="#000" >iDCs</text>
<rect x="445.80" y="278.20" width="6.10" height="1.15" fill="#383838" stroke="#000000" stroke-width="2.4"/>
<line x1="468.40" y1="272.30" x2="472.80" y2="272.30" stroke="#000" stroke-width="1.3"/>
<rect x="467.55" y="273.90" width="6.10" height="5.45" fill="#383838" stroke="#000000" stroke-width="2.4"/>
<line x1="492.35" y1="261.25" x2="492.35" y2="262.20" stroke="#000" stroke-width="3.355"/>
<line x1="489.61" y1="261.25" x2="495.10" y2="261.25" stroke="#000" stroke-width="1.7"/>
<rect x="489.30" y="262.90" width="6.10" height="16.45" fill="#383838" stroke="#000000" stroke-width="2.4"/>
<line x1="511.90" y1="258.80" x2="516.30" y2="258.80" stroke="#000" stroke-width="1.3"/>
<rect x="511.05" y="260.40" width="6.10" height="18.95" fill="#383838" stroke="#000000" stroke-width="2.4"/>
<line x1="410.40" y1="206.55" x2="410.40" y2="280.15" stroke="#000" stroke-width="1.6"/>
<line x1="409.60" y1="279.35" x2="519.80" y2="279.35" stroke="#000" stroke-width="1.6"/>
<line x1="407.10" y1="279.35" x2="410.40" y2="279.35" stroke="#000" stroke-width="1.2"/>
<text x="407.10" y="281.25" font-size="5.3" font-weight="bold" text-anchor="end" fill="#000"  stroke="#000" stroke-width="0.25">0</text>
<line x1="407.10" y1="264.93" x2="410.40" y2="264.93" stroke="#000" stroke-width="1.2"/>
<text x="407.10" y="266.83" font-size="5.3" font-weight="bold" text-anchor="end" fill="#000"  stroke="#000" stroke-width="0.25">5000</text>
<line x1="407.10" y1="250.51" x2="410.40" y2="250.51" stroke="#000" stroke-width="1.2"/>
<text x="407.10" y="252.41" font-size="5.3" font-weight="bold" text-anchor="end" fill="#000"  stroke="#000" stroke-width="0.25">10000</text>
<line x1="407.10" y1="236.09" x2="410.40" y2="236.09" stroke="#000" stroke-width="1.2"/>
<text x="407.10" y="237.99" font-size="5.3" font-weight="bold" text-anchor="end" fill="#000"  stroke="#000" stroke-width="0.25">15000</text>
<line x1="407.10" y1="221.67" x2="410.40" y2="221.67" stroke="#000" stroke-width="1.2"/>
<text x="407.10" y="223.57" font-size="5.3" font-weight="bold" text-anchor="end" fill="#000"  stroke="#000" stroke-width="0.25">20000</text>
<line x1="407.10" y1="207.25" x2="410.40" y2="207.25" stroke="#000" stroke-width="1.2"/>
<text x="407.10" y="209.15" font-size="5.3" font-weight="bold" text-anchor="end" fill="#000"  stroke="#000" stroke-width="0.25">25000</text>
<line x1="421.00" y1="279.35" x2="421.00" y2="282.55" stroke="#000" stroke-width="1.3"/>
<text x="420.00" y="288.90" font-size="6.5" font-weight="bold" text-anchor="middle" fill="#000"  stroke="#000" stroke-width="0.25">0</text>
<line x1="442.75" y1="279.35" x2="442.75" y2="282.55" stroke="#000" stroke-width="1.3"/>
<text x="441.83" y="288.90" font-size="6.5" font-weight="bold" text-anchor="middle" fill="#000"  stroke="#000" stroke-width="0.25">10</text>
<text x="445.63" y="286.50" font-size="4.2" font-weight="bold" text-anchor="start" fill="#000"  stroke="#000" stroke-width="0.25">-2</text>
<line x1="464.50" y1="279.35" x2="464.50" y2="282.55" stroke="#000" stroke-width="1.3"/>
<text x="463.86" y="288.90" font-size="6.5" font-weight="bold" text-anchor="middle" fill="#000"  stroke="#000" stroke-width="0.25">10</text>
<text x="467.66" y="286.50" font-size="4.2" font-weight="bold" text-anchor="start" fill="#000"  stroke="#000" stroke-width="0.25">-1</text>
<line x1="486.25" y1="279.35" x2="486.25" y2="282.55" stroke="#000" stroke-width="1.3"/>
<text x="486.09" y="288.00" font-size="6.5" font-weight="bold" text-anchor="middle" fill="#000"  stroke="#000" stroke-width="0.25">1</text>
<line x1="508.00" y1="279.35" x2="508.00" y2="282.55" stroke="#000" stroke-width="1.3"/>
<text x="508.12" y="288.90" font-size="6.5" font-weight="bold" text-anchor="middle" fill="#000"  stroke="#000" stroke-width="0.25">5</text>
<text x="467.50" y="299.20" font-size="7.0" font-weight="bold" text-anchor="middle" fill="#000" textLength="60.5" lengthAdjust="spacingAndGlyphs" stroke="#000" stroke-width="0.25">Ab or Pep (ug/ml)</text>
<text x="465.70" y="215.60" font-size="10.9" font-weight="bold" text-anchor="middle" fill="#000" >B cells</text>
<rect x="29.00" y="464.50" width="6.10" height="0.20" fill="#f0f0f0" stroke="#a8a8a8" stroke-width="2.4"/>
<rect x="35.10" y="464.20" width="6.10" height="0.20" fill="#8a8a8a" stroke="#000000" stroke-width="2.4"/>
<rect x="41.20" y="464.20" width="6.10" height="0.20" fill="#383838" stroke="#000000" stroke-width="2.4"/>
<rect x="50.75" y="464.50" width="6.10" height="0.20" fill="#f0f0f0" stroke="#a8a8a8" stroke-width="2.4"/>
<line x1="59.90" y1="443.25" x2="59.90" y2="444.00" stroke="#000" stroke-width="3.355"/>
<line x1="57.16" y1="443.25" x2="62.64" y2="443.25" stroke="#000" stroke-width="1.7"/>
<rect x="56.85" y="444.70" width="6.10" height="19.65" fill="#8a8a8a" stroke="#000000" stroke-width="2.4"/>
<line x1="63.80" y1="447.10" x2="68.20" y2="447.10" stroke="#000" stroke-width="1.3"/>
<rect x="62.95" y="448.70" width="6.10" height="15.65" fill="#383838" stroke="#000000" stroke-width="2.4"/>
<rect x="72.50" y="464.50" width="6.10" height="0.20" fill="#f0f0f0" stroke="#a8a8a8" stroke-width="2.4"/>
<line x1="81.65" y1="422.00" x2="81.65" y2="424.50" stroke="#000" stroke-width="3.355"/>
<line x1="78.91" y1="422.00" x2="84.40" y2="422.00" stroke="#000" stroke-width="1.7"/>
<rect x="78.60" y="425.20" width="6.10" height="39.15" fill="#8a8a8a" stroke="#000000" stroke-width="2.4"/>
<line x1="85.55" y1="412.85" x2="89.95" y2="412.85" stroke="#000" stroke-width="1.3"/>
<rect x="84.70" y="414.45" width="6.10" height="49.90" fill="#383838" stroke="#000000" stroke-width="2.4"/>
<rect x="94.25" y="464.50" width="6.10" height="0.20" fill="#f0f0f0" stroke="#a8a8a8" stroke-width="2.4"/>
<line x1="101.20" y1="417.35" x2="105.60" y2="417.35" stroke="#000" stroke-width="1.3"/>
<rect x="100.35" y="418.95" width="6.10" height="45.40" fill="#8a8a8a" stroke="#000000" stroke-width="2.4"/>
<line x1="107.30" y1="411.60" x2="111.70" y2="411.60" stroke="#000" stroke-width="1.3"/>
<rect x="106.45" y="413.20" width="6.10" height="51.15" fill="#383838" stroke="#000000" stroke-width="2.4"/>
<rect x="116.00" y="464.20" width="6.10" height="0.20" fill="#f0f0f0" stroke="#a8a8a8" stroke-width="2.4"/>
<line x1="125.15" y1="409.50" x2="125.15" y2="414.75" stroke="#000" stroke-width="1.8"/>
<line x1="122.41" y1="409.50" x2="127.90" y2="409.50" stroke="#000" stroke-width="1.7"/>
<rect x="122.10" y="415.95" width="6.10" height="48.40" fill="#8a8a8a" stroke="#000000" stroke-width="2.4"/>
<line x1="131.25" y1="399.80" x2="131.25" y2="401.50" stroke="#000" stroke-width="3.355"/>
<line x1="128.50" y1="399.80" x2="134.00" y2="399.80" stroke="#000" stroke-width="1.7"/>
<rect x="128.20" y="402.20" width="6.10" height="62.15" fill="#383838" stroke="#000000" stroke-width="2.4"/>
<line x1="27.30" y1="391.85" x2="27.30" y2="465.15" stroke="#000" stroke-width="1.6"/>
<line x1="26.50" y1="464.35" x2="136.70" y2="464.35" stroke="#000" stroke-width="1.6"/>
<line x1="24.00" y1="464.35" x2="27.30" y2="464.35" stroke="#000" stroke-width="1.2"/>
<text x="24.00" y="466.25" font-size="5.3" font-weight="bold" text-anchor="end" fill="#000"  stroke="#000" stroke-width="0.25">0</text>
<line x1="24.00" y1="446.40" x2="27.30" y2="446.40" stroke="#000" stroke-width="1.2"/>
<text x="24.00" y="448.30" font-size="5.3" font-weight="bold" text-anchor="end" fill="#000"  stroke="#000" stroke-width="0.25">5000</text>
<line x1="24.00" y1="428.45" x2="27.30" y2="428.45" stroke="#000" stroke-width="1.2"/>
<text x="24.00" y="430.35" font-size="5.3" font-weight="bold" text-anchor="end" fill="#000"  stroke="#000" stroke-width="0.25">10000</text>
<line x1="24.00" y1="410.50" x2="27.30" y2="410.50" stroke="#000" stroke-width="1.2"/>
<text x="24.00" y="412.40" font-size="5.3" font-weight="bold" text-anchor="end" fill="#000"  stroke="#000" stroke-width="0.25">15000</text>
<line x1="24.00" y1="392.55" x2="27.30" y2="392.55" stroke="#000" stroke-width="1.2"/>
<text x="24.00" y="394.45" font-size="5.3" font-weight="bold" text-anchor="end" fill="#000"  stroke="#000" stroke-width="0.25">20000</text>
<line x1="38.15" y1="464.35" x2="38.15" y2="467.55" stroke="#000" stroke-width="1.3"/>
<text x="37.15" y="473.20" font-size="6.5" font-weight="bold" text-anchor="middle" fill="#000"  stroke="#000" stroke-width="0.25">0</text>
<line x1="59.90" y1="464.35" x2="59.90" y2="467.55" stroke="#000" stroke-width="1.3"/>
<text x="58.98" y="473.20" font-size="6.5" font-weight="bold" text-anchor="middle" fill="#000"  stroke="#000" stroke-width="0.25">10</text>
<text x="62.78" y="470.80" font-size="4.2" font-weight="bold" text-anchor="start" fill="#000"  stroke="#000" stroke-width="0.25">-2</text>
<line x1="81.65" y1="464.35" x2="81.65" y2="467.55" stroke="#000" stroke-width="1.3"/>
<text x="81.01" y="473.20" font-size="6.5" font-weight="bold" text-anchor="middle" fill="#000"  stroke="#000" stroke-width="0.25">10</text>
<text x="84.81" y="470.80" font-size="4.2" font-weight="bold" text-anchor="start" fill="#000"  stroke="#000" stroke-width="0.25">-1</text>
<line x1="103.40" y1="464.35" x2="103.40" y2="467.55" stroke="#000" stroke-width="1.3"/>
<text x="103.24" y="472.30" font-size="6.5" font-weight="bold" text-anchor="middle" fill="#000"  stroke="#000" stroke-width="0.25">1</text>
<line x1="125.15" y1="464.35" x2="125.15" y2="467.55" stroke="#000" stroke-width="1.3"/>
<text x="125.27" y="473.20" font-size="6.5" font-weight="bold" text-anchor="middle" fill="#000"  stroke="#000" stroke-width="0.25">5</text>
<text x="84.30" y="483.80" font-size="7.0" font-weight="bold" text-anchor="middle" fill="#000" textLength="60.5" lengthAdjust="spacingAndGlyphs" stroke="#000" stroke-width="0.25">Ab or Pep (ug/ml)</text>
<text x="82.30" y="400.00" font-size="10.9" font-weight="bold" text-anchor="middle" fill="#000" >LCLs</text>
<g transform="translate(5.15,427.50) rotate(-90)"><text x="0" y="0" font-size="5.5" font-weight="bold" text-anchor="middle" fill="#000" stroke="#000" stroke-width="0.2" textLength="43.2" lengthAdjust="spacingAndGlyphs">IFN<tspan font-size="4.4" font-weight="normal">γ</tspan> (pg/ml)</text></g>
<line x1="184.45" y1="453.35" x2="188.85" y2="453.35" stroke="#000" stroke-width="1.3"/>
<rect x="183.60" y="454.95" width="6.10" height="9.10" fill="#8a8a8a" stroke="#000000" stroke-width="2.4"/>
<rect x="189.70" y="460.95" width="6.10" height="3.10" fill="#383838" stroke="#000000" stroke-width="2.4"/>
<line x1="206.20" y1="437.85" x2="210.60" y2="437.85" stroke="#000" stroke-width="1.3"/>
<rect x="205.35" y="439.45" width="6.10" height="24.60" fill="#8a8a8a" stroke="#000000" stroke-width="2.4"/>
<line x1="214.50" y1="433.75" x2="214.50" y2="436.50" stroke="#000" stroke-width="3.355"/>
<line x1="211.75" y1="433.75" x2="217.25" y2="433.75" stroke="#000" stroke-width="1.7"/>
<rect x="211.45" y="437.20" width="6.10" height="26.85" fill="#383838" stroke="#000000" stroke-width="2.4"/>
<line x1="227.95" y1="430.35" x2="232.35" y2="430.35" stroke="#000" stroke-width="1.3"/>
<rect x="227.10" y="431.95" width="6.10" height="32.10" fill="#8a8a8a" stroke="#000000" stroke-width="2.4"/>
<line x1="236.25" y1="431.75" x2="236.25" y2="433.75" stroke="#000" stroke-width="3.355"/>
<line x1="233.50" y1="431.75" x2="239.00" y2="431.75" stroke="#000" stroke-width="1.7"/>
<rect x="233.20" y="434.45" width="6.10" height="29.60" fill="#383838" stroke="#000000" stroke-width="2.4"/>
<line x1="249.70" y1="423.60" x2="254.10" y2="423.60" stroke="#000" stroke-width="1.3"/>
<rect x="248.85" y="425.20" width="6.10" height="38.85" fill="#8a8a8a" stroke="#000000" stroke-width="2.4"/>
<line x1="258.00" y1="407.50" x2="258.00" y2="411.50" stroke="#000" stroke-width="1.8"/>
<line x1="255.25" y1="407.50" x2="260.75" y2="407.50" stroke="#000" stroke-width="1.7"/>
<rect x="254.95" y="412.70" width="6.10" height="51.35" fill="#383838" stroke="#000000" stroke-width="2.4"/>
<line x1="154.20" y1="391.45" x2="154.20" y2="464.85" stroke="#000" stroke-width="1.6"/>
<line x1="153.40" y1="464.05" x2="263.60" y2="464.05" stroke="#000" stroke-width="1.6"/>
<line x1="150.90" y1="464.05" x2="154.20" y2="464.05" stroke="#000" stroke-width="1.2"/>
<text x="150.90" y="465.95" font-size="5.3" font-weight="bold" text-anchor="end" fill="#000"  stroke="#000" stroke-width="0.25">0</text>
<line x1="150.90" y1="446.07" x2="154.20" y2="446.07" stroke="#000" stroke-width="1.2"/>
<text x="150.90" y="447.97" font-size="5.3" font-weight="bold" text-anchor="end" fill="#000"  stroke="#000" stroke-width="0.25">5000</text>
<line x1="150.90" y1="428.10" x2="154.20" y2="428.10" stroke="#000" stroke-width="1.2"/>
<text x="150.90" y="430.00" font-size="5.3" font-weight="bold" text-anchor="end" fill="#000"  stroke="#000" stroke-width="0.25">10000</text>
<line x1="150.90" y1="410.12" x2="154.20" y2="410.12" stroke="#000" stroke-width="1.2"/>
<text x="150.90" y="412.02" font-size="5.3" font-weight="bold" text-anchor="end" fill="#000"  stroke="#000" stroke-width="0.25">15000</text>
<line x1="150.90" y1="392.15" x2="154.20" y2="392.15" stroke="#000" stroke-width="1.2"/>
<text x="150.90" y="394.05" font-size="5.3" font-weight="bold" text-anchor="end" fill="#000"  stroke="#000" stroke-width="0.25">20000</text>
<line x1="164.90" y1="464.05" x2="164.90" y2="467.25" stroke="#000" stroke-width="1.3"/>
<text x="163.90" y="473.20" font-size="6.5" font-weight="bold" text-anchor="middle" fill="#000"  stroke="#000" stroke-width="0.25">0</text>
<line x1="186.65" y1="464.05" x2="186.65" y2="467.25" stroke="#000" stroke-width="1.3"/>
<text x="185.73" y="473.20" font-size="6.5" font-weight="bold" text-anchor="middle" fill="#000"  stroke="#000" stroke-width="0.25">10</text>
<text x="189.53" y="470.80" font-size="4.2" font-weight="bold" text-anchor="start" fill="#000"  stroke="#000" stroke-width="0.25">-2</text>
<line x1="208.40" y1="464.05" x2="208.40" y2="467.25" stroke="#000" stroke-width="1.3"/>
<text x="207.76" y="473.20" font-size="6.5" font-weight="bold" text-anchor="middle" fill="#000"  stroke="#000" stroke-width="0.25">10</text>
<text x="211.56" y="470.80" font-size="4.2" font-weight="bold" text-anchor="start" fill="#000"  stroke="#000" stroke-width="0.25">-1</text>
<line x1="230.15" y1="464.05" x2="230.15" y2="467.25" stroke="#000" stroke-width="1.3"/>
<text x="229.99" y="472.30" font-size="6.5" font-weight="bold" text-anchor="middle" fill="#000"  stroke="#000" stroke-width="0.25">1</text>
<line x1="251.90" y1="464.05" x2="251.90" y2="467.25" stroke="#000" stroke-width="1.3"/>
<text x="252.02" y="473.20" font-size="6.5" font-weight="bold" text-anchor="middle" fill="#000"  stroke="#000" stroke-width="0.25">5</text>
<text x="211.40" y="483.80" font-size="7.0" font-weight="bold" text-anchor="middle" fill="#000" textLength="60.5" lengthAdjust="spacingAndGlyphs" stroke="#000" stroke-width="0.25">Ab or Pep (ug/ml)</text>
<text x="218.60" y="399.60" font-size="10.9" font-weight="bold" text-anchor="middle" fill="#000" >mDCs</text>
<line x1="312.65" y1="453.80" x2="317.05" y2="453.80" stroke="#000" stroke-width="1.3"/>
<rect x="311.80" y="455.40" width="6.10" height="8.35" fill="#8a8a8a" stroke="#000000" stroke-width="2.4"/>
<rect x="317.90" y="462.45" width="6.10" height="1.30" fill="#383838" stroke="#000000" stroke-width="2.4"/>
<line x1="334.40" y1="447.55" x2="338.80" y2="447.55" stroke="#000" stroke-width="1.3"/>
<rect x="333.55" y="449.15" width="6.10" height="14.60" fill="#8a8a8a" stroke="#000000" stroke-width="2.4"/>
<line x1="340.50" y1="449.30" x2="344.90" y2="449.30" stroke="#000" stroke-width="1.3"/>
<rect x="339.65" y="450.90" width="6.10" height="12.85" fill="#383838" stroke="#000000" stroke-width="2.4"/>
<line x1="356.15" y1="445.05" x2="360.55" y2="445.05" stroke="#000" stroke-width="1.3"/>
<rect x="355.30" y="446.65" width="6.10" height="17.10" fill="#8a8a8a" stroke="#000000" stroke-width="2.4"/>
<line x1="362.25" y1="437.55" x2="366.65" y2="437.55" stroke="#000" stroke-width="1.3"/>
<rect x="361.40" y="439.15" width="6.10" height="24.60" fill="#383838" stroke="#000000" stroke-width="2.4"/>
<line x1="377.90" y1="445.55" x2="382.30" y2="445.55" stroke="#000" stroke-width="1.3"/>
<rect x="377.05" y="447.15" width="6.10" height="16.60" fill="#8a8a8a" stroke="#000000" stroke-width="2.4"/>
<line x1="384.00" y1="423.80" x2="388.40" y2="423.80" stroke="#000" stroke-width="1.3"/>
<rect x="383.15" y="425.40" width="6.10" height="38.35" fill="#383838" stroke="#000000" stroke-width="2.4"/>
<line x1="282.30" y1="391.05" x2="282.30" y2="464.55" stroke="#000" stroke-width="1.6"/>
<line x1="281.50" y1="463.75" x2="391.70" y2="463.75" stroke="#000" stroke-width="1.6"/>
<line x1="279.00" y1="463.75" x2="282.30" y2="463.75" stroke="#000" stroke-width="1.2"/>
<text x="279.00" y="465.65" font-size="5.3" font-weight="bold" text-anchor="end" fill="#000"  stroke="#000" stroke-width="0.25">0</text>
<line x1="279.00" y1="445.75" x2="282.30" y2="445.75" stroke="#000" stroke-width="1.2"/>
<text x="279.00" y="447.65" font-size="5.3" font-weight="bold" text-anchor="end" fill="#000"  stroke="#000" stroke-width="0.25">5000</text>
<line x1="279.00" y1="427.75" x2="282.30" y2="427.75" stroke="#000" stroke-width="1.2"/>
<text x="279.00" y="429.65" font-size="5.3" font-weight="bold" text-anchor="end" fill="#000"  stroke="#000" stroke-width="0.25">10000</text>
<line x1="279.00" y1="409.75" x2="282.30" y2="409.75" stroke="#000" stroke-width="1.2"/>
<text x="279.00" y="411.65" font-size="5.3" font-weight="bold" text-anchor="end" fill="#000"  stroke="#000" stroke-width="0.25">15000</text>
<line x1="279.00" y1="391.75" x2="282.30" y2="391.75" stroke="#000" stroke-width="1.2"/>
<text x="279.00" y="393.65" font-size="5.3" font-weight="bold" text-anchor="end" fill="#000"  stroke="#000" stroke-width="0.25">20000</text>
<line x1="293.10" y1="463.75" x2="293.10" y2="466.95" stroke="#000" stroke-width="1.3"/>
<text x="292.10" y="473.20" font-size="6.5" font-weight="bold" text-anchor="middle" fill="#000"  stroke="#000" stroke-width="0.25">0</text>
<line x1="314.85" y1="463.75" x2="314.85" y2="466.95" stroke="#000" stroke-width="1.3"/>
<text x="313.93" y="473.20" font-size="6.5" font-weight="bold" text-anchor="middle" fill="#000"  stroke="#000" stroke-width="0.25">10</text>
<text x="317.73" y="470.80" font-size="4.2" font-weight="bold" text-anchor="start" fill="#000"  stroke="#000" stroke-width="0.25">-2</text>
<line x1="336.60" y1="463.75" x2="336.60" y2="466.95" stroke="#000" stroke-width="1.3"/>
<text x="335.96" y="473.20" font-size="6.5" font-weight="bold" text-anchor="middle" fill="#000"  stroke="#000" stroke-width="0.25">10</text>
<text x="339.76" y="470.80" font-size="4.2" font-weight="bold" text-anchor="start" fill="#000"  stroke="#000" stroke-width="0.25">-1</text>
<line x1="358.35" y1="463.75" x2="358.35" y2="466.95" stroke="#000" stroke-width="1.3"/>
<text x="358.19" y="472.30" font-size="6.5" font-weight="bold" text-anchor="middle" fill="#000"  stroke="#000" stroke-width="0.25">1</text>
<line x1="380.10" y1="463.75" x2="380.10" y2="466.95" stroke="#000" stroke-width="1.3"/>
<text x="380.22" y="473.20" font-size="6.5" font-weight="bold" text-anchor="middle" fill="#000"  stroke="#000" stroke-width="0.25">5</text>
<text x="339.40" y="483.80" font-size="7.0" font-weight="bold" text-anchor="middle" fill="#000" textLength="60.5" lengthAdjust="spacingAndGlyphs" stroke="#000" stroke-width="0.25">Ab or Pep (ug/ml)</text>
<text x="335.30" y="399.60" font-size="10.9" font-weight="bold" text-anchor="middle" fill="#000" >iDCs</text>
<rect x="439.60" y="460.20" width="6.10" height="3.25" fill="#8a8a8a" stroke="#000000" stroke-width="2.4"/>
<rect x="445.70" y="463.20" width="6.10" height="0.25" fill="#383838" stroke="#000000" stroke-width="2.4"/>
<rect x="461.35" y="460.20" width="6.10" height="3.25" fill="#8a8a8a" stroke="#000000" stroke-width="2.4"/>
<rect x="467.45" y="459.70" width="6.10" height="3.75" fill="#383838" stroke="#000000" stroke-width="2.4"/>
<rect x="483.10" y="459.70" width="6.10" height="3.75" fill="#8a8a8a" stroke="#000000" stroke-width="2.4"/>
<line x1="490.05" y1="451.10" x2="494.45" y2="451.10" stroke="#000" stroke-width="1.3"/>
<rect x="489.20" y="452.70" width="6.10" height="10.75" fill="#383838" stroke="#000000" stroke-width="2.4"/>
<rect x="504.85" y="459.70" width="6.10" height="3.75" fill="#8a8a8a" stroke="#000000" stroke-width="2.4"/>
<line x1="511.80" y1="447.35" x2="516.20" y2="447.35" stroke="#000" stroke-width="1.3"/>
<rect x="510.95" y="448.95" width="6.10" height="14.50" fill="#383838" stroke="#000000" stroke-width="2.4"/>
<line x1="410.20" y1="390.85" x2="410.20" y2="464.25" stroke="#000" stroke-width="1.6"/>
<line x1="409.40" y1="463.45" x2="519.60" y2="463.45" stroke="#000" stroke-width="1.6"/>
<line x1="406.90" y1="463.45" x2="410.20" y2="463.45" stroke="#000" stroke-width="1.2"/>
<text x="406.90" y="465.35" font-size="5.3" font-weight="bold" text-anchor="end" fill="#000"  stroke="#000" stroke-width="0.25">0</text>
<line x1="406.90" y1="445.48" x2="410.20" y2="445.48" stroke="#000" stroke-width="1.2"/>
<text x="406.90" y="447.38" font-size="5.3" font-weight="bold" text-anchor="end" fill="#000"  stroke="#000" stroke-width="0.25">5000</text>
<line x1="406.90" y1="427.50" x2="410.20" y2="427.50" stroke="#000" stroke-width="1.2"/>
<text x="406.90" y="429.40" font-size="5.3" font-weight="bold" text-anchor="end" fill="#000"  stroke="#000" stroke-width="0.25">10000</text>
<line x1="406.90" y1="409.52" x2="410.20" y2="409.52" stroke="#000" stroke-width="1.2"/>
<text x="406.90" y="411.42" font-size="5.3" font-weight="bold" text-anchor="end" fill="#000"  stroke="#000" stroke-width="0.25">15000</text>
<line x1="406.90" y1="391.55" x2="410.20" y2="391.55" stroke="#000" stroke-width="1.2"/>
<text x="406.90" y="393.45" font-size="5.3" font-weight="bold" text-anchor="end" fill="#000"  stroke="#000" stroke-width="0.25">20000</text>
<line x1="420.90" y1="463.45" x2="420.90" y2="466.65" stroke="#000" stroke-width="1.3"/>
<text x="419.90" y="473.20" font-size="6.5" font-weight="bold" text-anchor="middle" fill="#000"  stroke="#000" stroke-width="0.25">0</text>
<line x1="442.65" y1="463.45" x2="442.65" y2="466.65" stroke="#000" stroke-width="1.3"/>
<text x="441.73" y="473.20" font-size="6.5" font-weight="bold" text-anchor="middle" fill="#000"  stroke="#000" stroke-width="0.25">10</text>
<text x="445.53" y="470.80" font-size="4.2" font-weight="bold" text-anchor="start" fill="#000"  stroke="#000" stroke-width="0.25">-2</text>
<line x1="464.40" y1="463.45" x2="464.40" y2="466.65" stroke="#000" stroke-width="1.3"/>
<text x="463.76" y="473.20" font-size="6.5" font-weight="bold" text-anchor="middle" fill="#000"  stroke="#000" stroke-width="0.25">10</text>
<text x="467.56" y="470.80" font-size="4.2" font-weight="bold" text-anchor="start" fill="#000"  stroke="#000" stroke-width="0.25">-1</text>
<line x1="486.15" y1="463.45" x2="486.15" y2="466.65" stroke="#000" stroke-width="1.3"/>
<text x="485.99" y="472.30" font-size="6.5" font-weight="bold" text-anchor="middle" fill="#000"  stroke="#000" stroke-width="0.25">1</text>
<line x1="507.90" y1="463.45" x2="507.90" y2="466.65" stroke="#000" stroke-width="1.3"/>
<text x="508.02" y="473.20" font-size="6.5" font-weight="bold" text-anchor="middle" fill="#000"  stroke="#000" stroke-width="0.25">5</text>
<text x="467.50" y="483.80" font-size="7.0" font-weight="bold" text-anchor="middle" fill="#000" textLength="60.5" lengthAdjust="spacingAndGlyphs" stroke="#000" stroke-width="0.25">Ab or Pep (ug/ml)</text>
<text x="465.70" y="400.10" font-size="10.9" font-weight="bold" text-anchor="middle" fill="#000" >B cells</text>
<line x1="68.10" y1="592.00" x2="68.10" y2="593.40" stroke="#000" stroke-width="1.8"/>
<line x1="61.10" y1="592.00" x2="75.10" y2="592.00" stroke="#000" stroke-width="1.7"/>
<rect x="58.70" y="594.30" width="18.8" height="20.40" fill="#363636" stroke="#000" stroke-width="2.1"/>
<line x1="94.95" y1="552.80" x2="94.95" y2="555.00" stroke="#000" stroke-width="1.8"/>
<line x1="89.35" y1="552.80" x2="100.55" y2="552.80" stroke="#000" stroke-width="1.7"/>
<rect x="85.55" y="555.90" width="18.8" height="58.80" fill="#363636" stroke="#000" stroke-width="2.1"/>
<rect x="112.40" y="606.20" width="18.8" height="8.50" fill="#363636" stroke="#000" stroke-width="2.1"/>
<line x1="27.70" y1="541.70" x2="27.70" y2="615.35" stroke="#000" stroke-width="1.4"/>
<line x1="26.90" y1="614.70" x2="136.30" y2="614.70" stroke="#000" stroke-width="1.6"/>
<line x1="24.40" y1="614.70" x2="27.70" y2="614.70" stroke="#000" stroke-width="1.2"/>
<text x="24.10" y="616.60" font-size="5.0" font-weight="bold" text-anchor="end" fill="#000"  stroke="#000" stroke-width="0.25">0</text>
<line x1="24.40" y1="596.60" x2="27.70" y2="596.60" stroke="#000" stroke-width="1.2"/>
<text x="24.10" y="598.50" font-size="5.0" font-weight="bold" text-anchor="end" fill="#000"  stroke="#000" stroke-width="0.25">1000</text>
<line x1="24.40" y1="578.50" x2="27.70" y2="578.50" stroke="#000" stroke-width="1.2"/>
<text x="24.10" y="580.40" font-size="5.0" font-weight="bold" text-anchor="end" fill="#000"  stroke="#000" stroke-width="0.25">2000</text>
<line x1="24.40" y1="560.40" x2="27.70" y2="560.40" stroke="#000" stroke-width="1.2"/>
<text x="24.10" y="562.30" font-size="5.0" font-weight="bold" text-anchor="end" fill="#000"  stroke="#000" stroke-width="0.25">3000</text>
<line x1="24.40" y1="542.30" x2="27.70" y2="542.30" stroke="#000" stroke-width="1.2"/>
<text x="24.10" y="544.20" font-size="5.0" font-weight="bold" text-anchor="end" fill="#000"  stroke="#000" stroke-width="0.25">4000</text>
<line x1="41.30" y1="614.70" x2="41.30" y2="617.90" stroke="#000" stroke-width="1.2"/>
<text transform="translate(43.10,623.50) rotate(-45)" font-size="6.1" font-weight="bold" text-anchor="end" fill="#000" stroke="#000" stroke-width="0.2">TIB-E1</text>
<line x1="68.10" y1="614.70" x2="68.10" y2="617.90" stroke="#000" stroke-width="1.2"/>
<text transform="translate(69.90,623.50) rotate(-45)" font-size="6.1" font-weight="bold" text-anchor="end" fill="#000" stroke="#000" stroke-width="0.2"><tspan font-weight="normal" fill="#555">α</tspan>DEC-E1</text>
<line x1="94.95" y1="614.70" x2="94.95" y2="617.90" stroke="#000" stroke-width="1.2"/>
<text transform="translate(96.75,623.50) rotate(-45)" font-size="6.1" font-weight="bold" text-anchor="end" fill="#000" stroke="#000" stroke-width="0.2"><tspan font-weight="normal" fill="#555">α</tspan>DEC-E1 + CpG</text>
<line x1="121.80" y1="614.70" x2="121.80" y2="617.90" stroke="#000" stroke-width="1.2"/>
<text transform="translate(123.60,623.50) rotate(-45)" font-size="6.1" font-weight="bold" text-anchor="end" fill="#000" stroke="#000" stroke-width="0.2">Peptide</text>
<text x="24.4" y="529.9" font-size="8.3" font-weight="bold" fill="#000" textLength="116.8" lengthAdjust="spacingAndGlyphs">SNP c115 + autologous B cells</text>
<line x1="67.10" y1="549.10" x2="98.70" y2="549.10" stroke="#000" stroke-width="1.2"/>
<polygon points="79.80,541.75 80.39,543.39 82.13,543.44 80.75,544.51 81.24,546.18 79.80,545.20 78.36,546.18 78.85,544.51 77.47,543.44 79.21,543.39" fill="#000"/>
<polygon points="84.40,541.75 84.99,543.39 86.73,543.44 85.35,544.51 85.84,546.18 84.40,545.20 82.96,546.18 83.45,544.51 82.07,543.44 83.81,543.39" fill="#000"/>
<g transform="translate(8.4,575.0) rotate(-90)"><text x="0" y="0" font-size="5.5" font-weight="bold" text-anchor="middle" fill="#000" stroke="#000" stroke-width="0.2" textLength="43" lengthAdjust="spacingAndGlyphs">IFN<tspan font-size="4.4" font-weight="normal">γ</tspan> (pg/ml)</text></g>
<line x1="192.30" y1="613.20" x2="203.10" y2="613.20" stroke="#000" stroke-width="1.0"/>
<rect x="215.10" y="598.10" width="18.8" height="16.60" fill="#363636" stroke="#000" stroke-width="2.1"/>
<line x1="251.30" y1="571.00" x2="251.30" y2="576.70" stroke="#000" stroke-width="1.8"/>
<line x1="245.90" y1="571.00" x2="256.70" y2="571.00" stroke="#000" stroke-width="1.7"/>
<rect x="241.90" y="577.60" width="18.8" height="37.10" fill="#363636" stroke="#000" stroke-width="2.1"/>
<line x1="278.20" y1="559.40" x2="278.20" y2="560.30" stroke="#000" stroke-width="1.8"/>
<line x1="272.80" y1="559.40" x2="283.60" y2="559.40" stroke="#000" stroke-width="1.7"/>
<rect x="268.80" y="561.20" width="18.8" height="53.50" fill="#363636" stroke="#000" stroke-width="2.1"/>
<line x1="183.90" y1="541.70" x2="183.90" y2="615.35" stroke="#000" stroke-width="1.4"/>
<line x1="183.10" y1="614.70" x2="292.80" y2="614.70" stroke="#000" stroke-width="1.6"/>
<line x1="180.60" y1="614.70" x2="183.90" y2="614.70" stroke="#000" stroke-width="1.2"/>
<text x="180.30" y="616.60" font-size="5.0" font-weight="bold" text-anchor="end" fill="#000"  stroke="#000" stroke-width="0.25">0</text>
<line x1="180.60" y1="596.60" x2="183.90" y2="596.60" stroke="#000" stroke-width="1.2"/>
<text x="180.30" y="598.50" font-size="5.0" font-weight="bold" text-anchor="end" fill="#000"  stroke="#000" stroke-width="0.25">1000</text>
<line x1="180.60" y1="578.50" x2="183.90" y2="578.50" stroke="#000" stroke-width="1.2"/>
<text x="180.30" y="580.40" font-size="5.0" font-weight="bold" text-anchor="end" fill="#000"  stroke="#000" stroke-width="0.25">2000</text>
<line x1="180.60" y1="560.40" x2="183.90" y2="560.40" stroke="#000" stroke-width="1.2"/>
<text x="180.30" y="562.30" font-size="5.0" font-weight="bold" text-anchor="end" fill="#000"  stroke="#000" stroke-width="0.25">3000</text>
<line x1="180.60" y1="542.30" x2="183.90" y2="542.30" stroke="#000" stroke-width="1.2"/>
<text x="180.30" y="544.20" font-size="5.0" font-weight="bold" text-anchor="end" fill="#000"  stroke="#000" stroke-width="0.25">4000</text>
<line x1="197.70" y1="614.70" x2="197.70" y2="617.90" stroke="#000" stroke-width="1.2"/>
<text transform="translate(199.50,623.50) rotate(-45)" font-size="6.1" font-weight="bold" text-anchor="end" fill="#000" stroke="#000" stroke-width="0.2">Ctr-LMP1</text>
<line x1="224.50" y1="614.70" x2="224.50" y2="617.90" stroke="#000" stroke-width="1.2"/>
<text transform="translate(226.30,623.50) rotate(-45)" font-size="6.1" font-weight="bold" text-anchor="end" fill="#000" stroke="#000" stroke-width="0.2"><tspan font-weight="normal" fill="#555">α</tspan>DEC-LMP1</text>
<line x1="251.30" y1="614.70" x2="251.30" y2="617.90" stroke="#000" stroke-width="1.2"/>
<text transform="translate(253.10,623.50) rotate(-45)" font-size="6.1" font-weight="bold" text-anchor="end" fill="#000" stroke="#000" stroke-width="0.2"><tspan font-weight="normal" fill="#555">α</tspan>DEC-LMP1 + CpG</text>
<line x1="278.20" y1="614.70" x2="278.20" y2="617.90" stroke="#000" stroke-width="1.2"/>
<text transform="translate(280.00,623.50) rotate(-45)" font-size="6.1" font-weight="bold" text-anchor="end" fill="#000" stroke="#000" stroke-width="0.2">Peptide</text>
<text x="181.7" y="530.9" font-size="8.3" font-weight="bold" fill="#000" textLength="108.8" lengthAdjust="spacingAndGlyphs">SSH c4 + autologous B cells</text>
<line x1="222.70" y1="565.60" x2="253.80" y2="565.60" stroke="#000" stroke-width="1.2"/>
<polygon points="236.00,558.75 236.59,560.39 238.33,560.44 236.95,561.51 237.44,563.18 236.00,562.20 234.56,563.18 235.05,561.51 233.67,560.44 235.41,560.39" fill="#000"/>
<polygon points="240.60,558.75 241.19,560.39 242.93,560.44 241.55,561.51 242.04,563.18 240.60,562.20 239.16,563.18 239.65,561.51 238.27,560.44 240.01,560.39" fill="#000"/>
<g transform="translate(166.3,575.0) rotate(-90)"><text x="0" y="0" font-size="5.5" font-weight="bold" text-anchor="middle" fill="#000" stroke="#000" stroke-width="0.2" textLength="43" lengthAdjust="spacingAndGlyphs">IFN<tspan font-size="4.4" font-weight="normal">γ</tspan> (pg/ml)</text></g>
</svg>
</body></html>
